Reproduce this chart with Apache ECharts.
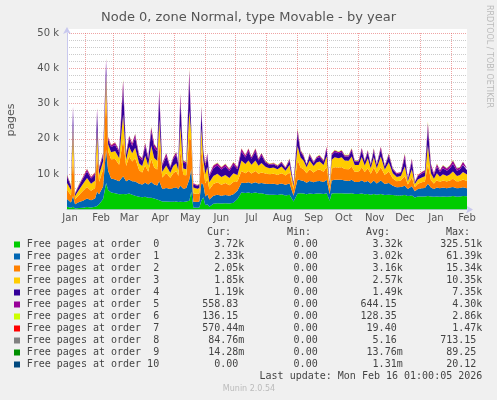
<!DOCTYPE html>
<html><head><meta charset="utf-8">
<script src="https://cdn.jsdelivr.net/npm/echarts@6/dist/echarts.min.js"></script>
<style>html,body{margin:0;padding:0;background:#f0f0f0;}#c{width:497px;height:400px;}</style>
</head><body><div id="c"></div><script>
// x: days since 2025-01-14 ; y values in thousands of pages
const startDate = '2025-01-14';
const dayCount = 400;
const sampleDay = [0,4,6,8,12,16,20,24,28,30,32,36,39,41,44,48,52,56,59,62,65,68,72,75,78,81,84,87,90,92,95,99,103,106,109,111,113,116,119,122,124,126,130,132,134,136,138,140,142,146,150,154,158,162,166,170,174,178,181,184,188,191,194,198,202,206,210,214,218,222,226,230,233,236,239,242,246,249,252,256,259,262,264,267,271,274,277,281,284,287,291,294,297,300,303,306,309,313,317,321,325,329,333,337,340,344,347,350,354,357,360,363,366,369,372,375,379,382,385,389,392,395,399];
const order0 = [0.8,0.5,0.8,0.3,0.4,0.5,0.7,0.6,0.8,1.0,
1.5,3.0,7.5,5.5,4.8,4.6,4.3,4.4,4.3,4.5,
4.2,3.9,3.6,3.5,3.6,3.3,3.3,3.1,2.8,2.6,
2.3,2.3,2.2,2.2,2.3,2.1,2.2,2.1,2.3,2.5,
5.0,0.6,0.5,0.6,2.5,3.5,1.2,1.5,0.8,1.6,
1.8,1.7,1.8,1.7,1.9,3.0,4.8,4.7,4.8,4.6,
4.8,4.6,4.6,4.3,4.2,4.2,4.1,4.3,4.0,4.2,
2.3,4.5,4.6,4.5,4.3,4.5,4.4,4.5,4.5,4.4,
4.6,2.5,4.5,4.6,4.6,4.6,4.5,4.5,4.6,4.4,
4.4,4.5,4.3,4.4,4.2,4.4,4.2,4.4,4.1,4.2,
4.1,4.0,4.0,4.1,3.8,4.0,3.4,3.7,3.7,3.7,
3.8,3.7,3.6,3.7,3.6,3.7,3.6,3.7,3.8,3.6,
3.7,3.8,3.72];
const order1 = [2.2,1.5,3.0,1.2,1.7,2.0,2.4,2.0,2.3,4.0,
2.8,3.5,9.5,5.5,4.0,3.9,3.7,5.0,3.7,4.0,
3.8,4.0,3.7,3.6,4.0,3.8,4.5,4.0,4.0,5.5,
3.5,3.8,3.6,3.9,4.0,3.7,4.5,3.8,3.8,6.0,
6.5,1.6,1.6,1.7,5.0,3.5,2.5,2.8,2.0,2.3,
2.4,2.2,2.3,2.2,2.4,2.3,2.8,2.8,2.9,2.8,
2.9,2.8,2.9,3.0,3.0,3.1,3.0,3.1,3.0,3.2,
1.6,4.0,3.7,3.6,3.3,3.6,3.3,3.5,3.6,3.4,
3.8,1.8,3.7,3.8,3.8,3.8,3.7,3.6,3.8,3.4,
3.4,3.8,3.4,3.7,3.2,3.8,3.2,3.8,3.1,3.3,
2.6,2.3,2.4,2.6,2.0,2.6,1.8,2.1,2.3,2.4,
3.5,2.5,2.2,2.5,2.4,2.5,2.4,2.5,2.6,2.4,
2.4,2.5,2.33];
const order2 = [2.6,2.0,12.0,1.4,2.0,2.8,3.3,2.7,3.0,11.0,
3.5,4.8,16.5,5.5,5.4,5.8,4.7,10.5,4.3,6.5,
5.6,6.6,3.8,3.4,4.9,3.6,6.5,4.8,4.5,11.0,
3.3,4.2,3.2,4.2,4.6,3.7,10.0,3.9,3.6,12.0,
8.0,2.4,2.3,2.3,9.5,4.6,3.7,4.5,2.9,3.3,
3.5,3.1,3.4,3.0,3.5,2.6,3.3,2.8,3.2,2.8,
3.2,2.7,3.0,2.9,2.8,2.8,2.7,2.9,2.6,3.1,
1.7,5.5,3.6,3.3,2.7,3.3,2.8,3.1,3.2,2.9,
3.7,1.5,3.4,3.6,3.5,3.6,3.3,3.3,3.7,2.9,
2.9,3.7,2.9,3.6,2.7,3.7,2.7,3.8,2.6,3.3,
2.1,1.7,1.8,2.8,1.3,2.5,1.2,1.5,1.7,1.8,
5.5,2.1,1.6,2.1,1.8,2.0,1.9,2.0,2.3,1.9,
2.0,2.2,2.05];
const order3 = [1.9,1.5,8.0,0.9,1.5,2.0,2.5,2.0,2.1,6.5,
2.0,2.3,4.5,2.0,2.0,2.3,1.9,7.0,1.8,2.8,
2.3,3.0,1.9,1.8,2.7,1.8,3.8,2.7,2.5,6.5,
1.6,2.2,1.4,2.0,2.2,1.7,7.0,1.8,1.7,7.5,
2.0,1.6,1.5,1.5,6.0,2.5,2.6,3.3,2.0,2.3,
2.4,2.2,2.3,2.0,2.5,1.9,3.0,2.6,3.0,2.5,
3.0,2.3,2.7,1.9,1.7,1.8,1.6,1.9,1.4,2.1,
1.0,4.0,2.8,2.4,1.7,2.5,1.8,2.2,2.3,1.9,
3.0,0.9,2.5,2.8,2.6,2.8,2.4,2.4,2.9,1.9,
1.9,2.9,1.9,2.8,1.6,2.9,1.6,3.0,1.5,2.6,
1.5,1.2,1.3,2.7,0.9,2.3,0.8,1.2,1.4,1.5,
5.5,2.0,1.3,2.0,1.5,1.8,1.6,1.8,2.1,1.6,
1.7,2.1,1.85];
const order4 = [1.8,1.1,4.5,0.6,1.1,1.5,1.9,1.5,1.7,5.0,
1.6,1.7,3.5,1.4,1.5,1.7,1.6,7.5,1.4,2.3,
2.1,3.0,1.8,1.6,2.7,1.8,4.0,2.9,2.7,6.8,
1.7,2.6,1.4,2.0,2.4,1.7,7.0,1.8,1.6,9.0,
1.1,0.9,0.8,0.9,5.0,2.1,2.3,3.0,1.7,2.2,
2.4,2.1,2.4,2.0,2.4,1.6,2.5,1.8,2.5,1.7,
2.5,1.5,2.1,1.2,0.9,0.9,0.8,1.0,0.7,1.3,
0.6,3.6,1.6,1.2,0.7,1.4,0.9,1.2,1.3,1.0,
1.9,0.5,1.3,1.5,1.4,1.5,1.1,1.2,1.7,1.0,
1.0,1.8,1.1,1.7,0.9,1.8,0.9,2.0,0.9,1.8,
1.0,0.8,0.9,2.5,0.6,2.2,0.5,0.9,1.1,1.2,
4.8,1.8,1.1,1.8,1.3,1.7,1.5,1.7,2.1,1.5,
1.6,2.0,1.19];
const order5 = [0.5,0.3,1.0,0.2,0.4,0.4,0.6,0.4,0.5,1.2,
0.5,0.6,1.2,0.5,0.5,0.6,0.5,2.2,0.4,0.8,
0.7,0.9,0.6,0.6,0.9,0.6,1.2,1.0,0.8,1.8,
0.5,0.8,0.4,0.6,0.7,0.5,2.0,0.5,0.4,2.6,
0.3,0.25,0.25,0.25,1.3,0.5,0.6,0.8,0.5,0.7,
0.7,0.6,0.7,0.5,0.7,0.5,0.8,0.6,0.8,0.5,
0.8,0.5,0.6,0.4,0.3,0.3,0.3,0.3,0.2,0.5,
0.15,1.1,0.5,0.4,0.2,0.5,0.3,0.4,0.5,0.3,
0.7,0.15,0.4,0.5,0.4,0.5,0.4,0.4,0.6,0.3,
0.3,0.7,0.3,0.6,0.3,0.7,0.3,0.7,0.3,0.6,
0.3,0.25,0.25,1.0,0.15,0.8,0.15,0.3,0.4,0.5,
1.5,0.8,0.4,0.8,0.5,0.8,0.6,0.8,1.0,0.6,
0.6,0.9,0.56];
const order6 = [0.1,0.1,0.3,0.05,0.1,0.1,0.1,0.1,0.1,0.3,
0.1,0.1,0.3,0.1,0.1,0.1,0.1,0.4,0.1,0.1,
0.1,0.1,0.1,0.1,0.1,0.1,0.2,0.1,0.1,0.3,
0.1,0.1,0.1,0.1,0.1,0.1,0.3,0.1,0.1,0.4,
0.1,0.05,0.05,0.05,0.3,0.1,0.1,0.1,0.1,0.1,
0.1,0.1,0.1,0.1,0.1,0.1,0.1,0.1,0.1,0.1,
0.1,0.1,0.1,0.1,0.1,0.1,0.1,0.1,0.1,0.1,
0.05,0.3,0.1,0.1,0.1,0.1,0.1,0.1,0.1,0.1,
0.1,0.05,0.1,0.1,0.1,0.1,0.1,0.1,0.1,0.1,
0.1,0.1,0.1,0.1,0.1,0.1,0.1,0.1,0.1,0.1,
0.1,0.05,0.05,0.2,0.05,0.1,0.05,0.1,0.1,0.1,
0.4,0.1,0.1,0.1,0.1,0.1,0.1,0.1,0.1,0.1,
0.1,0.1,0.14];
const order7 = [0.02,0.02,0.05,0.01,0.02,0.02,0.02,0.02,0.02,0.05,
0.02,0.02,0.06,0.02,0.02,0.02,0.02,0.05,0.02,0.02,
0.02,0.02,0.02,0.02,0.02,0.02,0.03,0.02,0.02,0.05,
0.02,0.02,0.02,0.02,0.02,0.02,0.05,0.02,0.02,0.06,
0.03,0.01,0.01,0.01,0.05,0.02,0.02,0.02,0.02,0.02,
0.02,0.02,0.02,0.02,0.02,0.02,0.02,0.02,0.02,0.02,
0.02,0.02,0.02,0.02,0.02,0.02,0.02,0.02,0.02,0.02,
0.01,0.04,0.02,0.02,0.02,0.02,0.02,0.02,0.02,0.02,
0.02,0.01,0.02,0.02,0.02,0.02,0.02,0.02,0.02,0.02,
0.02,0.02,0.02,0.02,0.02,0.02,0.02,0.02,0.02,0.02,
0.02,0.01,0.01,0.03,0.01,0.02,0.01,0.02,0.02,0.02,
0.04,0.02,0.02,0.02,0.02,0.02,0.02,0.02,0.02,0.02,
0.02,0.02,0.0006];
const order8 = [0.005,0.005,0.01,0.003,0.005,0.005,0.005,0.005,0.005,0.01,
0.005,0.005,0.02,0.005,0.005,0.005,0.005,0.01,0.005,0.005,
0.005,0.005,0.005,0.005,0.005,0.005,0.005,0.005,0.005,0.01,
0.005,0.005,0.005,0.005,0.005,0.005,0.01,0.005,0.005,0.02,
0.005,0.003,0.003,0.003,0.01,0.005,0.005,0.005,0.005,0.005,
0.005,0.005,0.005,0.005,0.005,0.005,0.005,0.005,0.005,0.005,
0.005,0.005,0.005,0.005,0.005,0.005,0.005,0.005,0.005,0.005,
0.003,0.01,0.005,0.005,0.005,0.005,0.005,0.005,0.005,0.005,
0.005,0.003,0.005,0.005,0.005,0.005,0.005,0.005,0.005,0.005,
0.005,0.005,0.005,0.005,0.005,0.005,0.005,0.005,0.005,0.005,
0.005,0.003,0.003,0.005,0.003,0.005,0.003,0.005,0.005,0.005,
0.01,0.005,0.005,0.005,0.005,0.005,0.005,0.005,0.005,0.005,
0.005,0.005,0.0001];
const order9 = [0,0,0.001,0,0,0,0,0,0,0.001,
0,0,0.002,0,0,0,0,0.001,0,0,
0,0,0,0,0,0,0,0,0,0.001,
0,0,0,0,0,0,0.001,0,0,0.002,
0,0,0,0,0.001,0,0,0,0,0,
0,0,0,0,0,0,0,0,0,0,
0,0,0,0,0,0,0,0,0,0,
0,0.001,0,0,0,0,0,0,0,0,
0,0,0,0,0,0,0,0,0,0,
0,0,0,0,0,0,0,0,0,0,
0,0,0,0,0,0,0,0,0,0,
0.001,0,0,0,0,0,0,0,0,0,
0,0,0];
const order10 = [0,0,0,0,0,0,0,0,0,0,
0,0,0.001,0,0,0,0,0,0,0,
0,0,0,0,0,0,0,0,0,0,
0,0,0,0,0,0,0,0,0,0.001,
0,0,0,0,0,0,0,0,0,0,
0,0,0,0,0,0,0,0,0,0,
0,0,0,0,0,0,0,0,0,0,
0,0,0,0,0,0,0,0,0,0,
0,0,0,0,0,0,0,0,0,0,
0,0,0,0,0,0,0,0,0,0,
0,0,0,0,0,0,0,0,0,0,
0,0,0,0,0,0,0,0,0,0,
0,0,0];

const monthStartDay = [18,46,77,107,138,168,199,230,260,291,321,352,383];
const monthLabelDay = [3,34,62,93,123,154,184,215,246,276,307,337,368,399];
const monthLabels = ['Jan','Feb','Mar','Apr','May','Jun','Jul','Aug','Sep','Oct','Nov','Dec','Jan','Feb'];

const seriesNames = ['Free pages at order  0','Free pages at order  1','Free pages at order  2','Free pages at order  3','Free pages at order  4','Free pages at order  5','Free pages at order  6','Free pages at order  7','Free pages at order  8','Free pages at order  9','Free pages at order 10'];
const seriesColors = ['#00CC00','#0066B3','#FF8000','#FFCC00','#330099','#990099','#CCFF00','#FF0000','#808080','#008F00','#00487D'];
const curVals = ['3.72k','2.33k','2.05k','1.85k','1.19k','558.83','136.15','570.44m','84.76m','14.28m','0.00'];
const minVals = ['0.00','0.00','0.00','0.00','0.00','0.00','0.00','0.00','0.00','0.00','0.00'];
const avgVals = ['3.32k','3.02k','3.16k','2.57k','1.49k','644.15','128.35','19.40','5.16','13.76m','1.31m'];
const maxVals = ['325.51k','61.39k','15.34k','10.35k','7.35k','4.30k','2.86k','1.47k','713.15','89.25','20.12'];
const columnHeads = ['Cur:','Min:','Avg:','Max:'];

const allOrders = [order0,order1,order2,order3,order4,order5,order6,order7,order8,order9,order10];

// one category per day
const T0 = Date.parse(startDate + 'T00:00:00Z');
const dayCategories = [];
for (let d = 0; d < dayCount; d++) dayCategories.push(new Date(T0 + d * 86400000).toISOString().slice(0, 10));

const chart = echarts.init(document.getElementById('c'), null, {renderer:'canvas'});
const FONT = 'DejaVu Sans';
const MONO = 'DejaVu Sans Mono';

const series = allOrders.map((arr, k) => ({
  name: seriesNames[k],
  type: 'line',
  stack: 'total',
  symbol: 'none',
  silent: true,
  lineStyle: {width: 0},
  itemStyle: {color: seriesColors[k]},
  areaStyle: {color: seriesColors[k], opacity: 1},
  data: sampleDay.map((d, i) => [d, arr[i]])
}));

const graphics = [];
graphics.push({type:'rect', z:0, shape:{x:67,y:29,width:400,height:4.5}, style:{fill:'#ffffff'}});
graphics.push({type:'text', x:11, y:120, rotation:Math.PI/2, style:{text:'pages', font:'11px "'+FONT+'"', fill:'#555', align:'center', verticalAlign:'middle'}});
graphics.push({type:'text', x:489, y:5, rotation:-Math.PI/2, style:{text:'RRDTOOL / TOBI OETIKER', font:'8px "'+FONT+'"', fill:'#bbb', align:'left', verticalAlign:'middle'}});

const headX = [231, 311, 390, 470];
const colEnd = [244.3, 323.7, 402.7, 482.3];
columnHeads.forEach((h, j) => {
  graphics.push({type:'text', x:headX[j], y:232.5, style:{text:h, font:'10px "'+MONO+'"', fill:'#444', align:'right', verticalAlign:'middle'}});
});
const pad = s => (/[0-9]$/.test(s) ? s + '\u00a0' : s);
seriesNames.forEach((n, i) => {
  const y = 244.5 + 12 * i;
  graphics.push({type:'rect', shape:{x:14, y:y-3, width:6, height:6}, style:{fill:seriesColors[i]}});
  graphics.push({type:'text', x:26.7, y:y, style:{text:n, font:'10px "'+MONO+'"', fill:'#444', align:'left', verticalAlign:'middle'}});
  [curVals, minVals, avgVals, maxVals].forEach((col, j) => {
    graphics.push({type:'text', x:colEnd[j], y:y, style:{text:pad(col[i]), font:'10px "'+MONO+'"', fill:'#444', align:'right', verticalAlign:'middle'}});
  });
});
graphics.push({type:'text', x:482.3, y:376.7, style:{text:'Last update: Mon Feb 16 01:00:05 2026', font:'10px "'+MONO+'"', fill:'#444', align:'right', verticalAlign:'middle'}});
graphics.push({type:'text', x:249, y:389, style:{text:'Munin 2.0.54', font:'8px "'+FONT+'"', fill:'#bbb', align:'center', verticalAlign:'middle'}});

const axisCol = '#c8c8ee';
chart.setOption({
  animation: false,
  backgroundColor: '#f0f0f0',
  title: {text:'Node 0, zone Normal, type Movable - by year', left:'center', top:6,
    textStyle:{fontFamily:FONT, fontSize:13, fontWeight:'normal', color:'#555'}},
  grid: {left:67, right:30, top:33, bottom:190.5, show:true, backgroundColor:'#ffffff', borderWidth:0, containLabel:false, outerBoundsMode:'none'},
  xAxis: {
    type:'category', data: dayCategories, boundaryGap:false,
    axisLine:{show:true, onZero:false, lineStyle:{color:axisCol, width:1}, symbol:['none','arrow'], symbolSize:[6,7], symbolOffset:[0,6]},
    axisTick:{show:false},
    splitLine:{show:true, interval: (idx) => monthStartDay.indexOf(idx) >= 0,
      lineStyle:{color:'rgba(225,90,90,0.55)', type:[1,1], width:1}},
    axisLabel:{interval: (idx) => monthLabelDay.indexOf(idx) >= 0, margin:4, fontFamily:FONT, fontSize:10, color:'#555', hideOverlap:false,
      showMinLabel:true, showMaxLabel:true,
      formatter: (v, idx) => { const k = monthLabelDay.indexOf(idx); return k >= 0 ? monthLabels[k] : ''; }}
  },
  yAxis: {
    type:'value', min:0, max:50, interval:10,
    axisLine:{show:true, onZero:false, lineStyle:{color:axisCol, width:1}, symbol:['none','arrow'], symbolSize:[6,7], symbolOffset:[0,6]},
    axisTick:{show:false},
    minorTick:{show:false, splitNumber:5},
    splitLine:{show:true, lineStyle:{color:'rgba(225,90,90,0.55)', type:[1,1], width:1}},
    minorSplitLine:{show:true, lineStyle:{color:'rgba(140,140,140,0.45)', type:[1,1], width:1}},
    axisLabel:{margin:8, fontFamily:FONT, fontSize:10, color:'#555', formatter: v => v === 0 ? '' : v + ' k'}
  },
  series: series,
  graphic: graphics
});
</script></body></html>
